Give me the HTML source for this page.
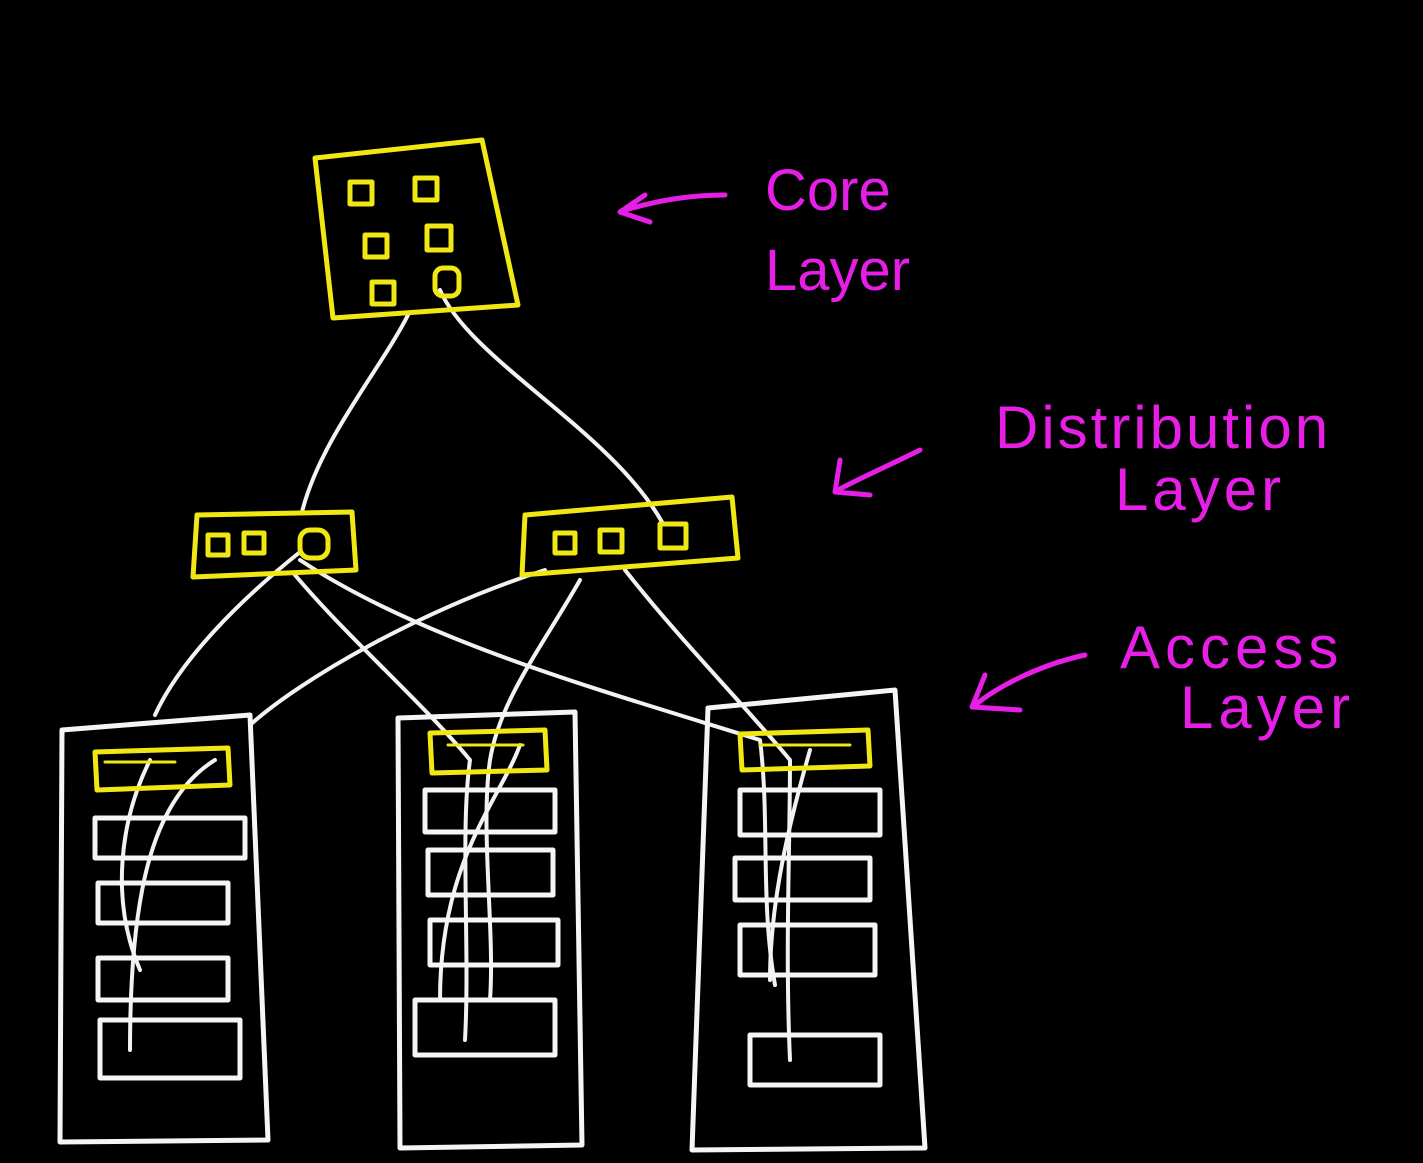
<!DOCTYPE html>
<html><head><meta charset="utf-8"><style>
html,body{margin:0;padding:0;background:#000;width:1423px;height:1163px;overflow:hidden}
svg{display:block}
text{font-family:"Liberation Sans",sans-serif;fill:#e61ee6}
</style></head><body>
<svg width="1423" height="1163" viewBox="0 0 1423 1163" xmlns="http://www.w3.org/2000/svg">
<rect width="1423" height="1163" fill="#000"/>
<g fill="none" stroke-linecap="round" stroke-linejoin="round">
<g stroke="#f2f2f2" stroke-width="4">
<path d="M408 315 C380 370 320 440 302 512"/>
<path d="M440 290 C470 360 610 430 662 522"/>
<path d="M300 552 C240 600 180 660 155 715 M150 760 C120 820 110 900 140 970"/>
<path d="M295 575 C350 640 420 700 470 760 C460 830 470 950 465 1040"/>
<path d="M300 560 C420 640 600 690 760 740 C770 820 760 900 775 985"/>
<path d="M545 570 C420 610 300 680 250 725 M215 760 C150 800 130 900 130 1050"/>
<path d="M580 580 C540 650 500 700 490 760 C480 830 495 930 490 1000"/>
<path d="M625 570 C680 640 740 700 790 760 C790 850 785 950 790 1060"/>
<path d="M520 745 C500 800 440 860 440 1000"/>
<path d="M810 750 C790 820 770 900 770 980"/>
</g>
<g stroke="#f0e814" stroke-width="5">
<path d="M315 158 L482 140 L518 305 L333 318 Z"/>
<rect x="350" y="182" width="22" height="22"/><rect x="415" y="178" width="22" height="22"/>
<rect x="365" y="235" width="22" height="22"/><rect x="427" y="226" width="24" height="24"/>
<rect x="372" y="282" width="22" height="22"/><rect x="435" y="268" width="24" height="28" rx="8"/>
<path d="M197 515 L352 512 L356 570 L193 577 Z"/>
<rect x="208" y="535" width="20" height="20"/><rect x="244" y="533" width="20" height="20"/><rect x="300" y="530" width="28" height="28" rx="10"/>
<path d="M525 515 L732 497 L738 558 L522 575 Z"/>
<rect x="555" y="533" width="20" height="20"/><rect x="600" y="530" width="22" height="22"/><rect x="660" y="524" width="26" height="24"/>
<path d="M95 752 L228 748 L230 785 L97 790 Z"/>
<path d="M430 733 L545 730 L547 770 L432 773 Z"/>
<path d="M740 734 L868 730 L870 766 L742 770 Z"/>
<path d="M105 762h70 M760 745h90 M448 745h75" stroke-width="3"/>
</g>
<g stroke="#f5f5f5" stroke-width="5">
<path d="M62 730 L250 715 L268 1140 L60 1142 Z"/>
<path d="M398 718 L575 712 L582 1145 L400 1148 Z"/>
<path d="M708 708 L895 690 L925 1148 L692 1150 Z"/>
<rect x="95" y="818" width="150" height="40"/><rect x="98" y="883" width="130" height="40"/>
<rect x="98" y="958" width="130" height="42"/><rect x="100" y="1020" width="140" height="58"/>
<rect x="425" y="790" width="130" height="42"/><rect x="428" y="850" width="125" height="45"/>
<rect x="430" y="920" width="128" height="45"/><rect x="415" y="1000" width="140" height="55"/>
<rect x="740" y="790" width="140" height="45"/><rect x="735" y="858" width="135" height="42"/>
<rect x="740" y="925" width="135" height="50"/><rect x="750" y="1035" width="130" height="50"/>
</g>
<g stroke="#e61ee6" stroke-width="5">
<path d="M725 195 C690 195 660 200 625 210 M645 195 L620 212 L650 222"/>
<path d="M920 450 C890 465 860 478 838 490 M840 460 L835 492 L870 495"/>
<path d="M1085 655 C1040 665 1000 685 975 705 M985 675 L972 707 L1020 710"/>
</g>
</g>
<text x="765" y="210" font-size="58">Core</text>
<text x="765" y="290" font-size="58">Layer</text>
<text x="995" y="448" font-size="60" letter-spacing="3">Distribution</text>
<text x="1115" y="510" font-size="60" letter-spacing="4">Layer</text>
<text x="1120" y="668" font-size="60" letter-spacing="5">Access</text>
<text x="1180" y="728" font-size="60" letter-spacing="5">Layer</text>
</svg>
</body></html>
